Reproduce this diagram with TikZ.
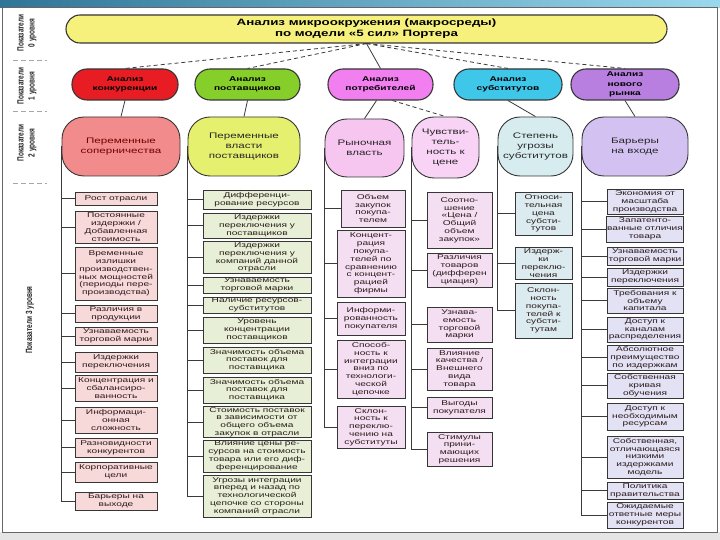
\documentclass[tikz,border=0pt]{standalone}
\usepackage{fontspec}
\setmainfont{Liberation Sans}
\newfontfamily\wfont[FakeStretch=1.45]{Liberation Sans}
\newfontfamily\nfont[FakeStretch=0.72]{Liberation Sans}
\usetikzlibrary{backgrounds}
\definecolor{linec}{HTML}{3A3A3A}
\definecolor{bordc}{HTML}{363636}
\definecolor{ttlfill}{HTML}{F6F07C}
\definecolor{oneA}{HTML}{E81C23}
\definecolor{oneB}{HTML}{86CF2B}
\definecolor{oneC}{HTML}{F27FF0}
\definecolor{oneD}{HTML}{3FC7EA}
\definecolor{oneE}{HTML}{B87FE0}
\definecolor{twoA}{HTML}{F28B8B}
\definecolor{twoB}{HTML}{E4F06E}
\definecolor{twoC}{HTML}{F6C6F1}
\definecolor{twoD}{HTML}{F8D3F5}
\definecolor{twoE}{HTML}{D6ECEF}
\definecolor{twoF}{HTML}{D3C2F1}
\definecolor{thrA}{HTML}{F7D9DA}
\definecolor{thrB}{HTML}{E7F0D6}
\definecolor{thrC}{HTML}{F4DFF2}
\definecolor{thrE}{HTML}{DCEBEF}
\definecolor{thrF}{HTML}{E3E1F4}
\definecolor{txtc}{HTML}{2B1B1B}
\definecolor{bandL}{HTML}{2F7597}
\definecolor{bandR}{HTML}{9AD8EE}
\newcommand\lbox[7]{\node[#2, minimum width={#4-#3}, minimum height={#6-#5}] (#1) at ({(#3+#4)/2},{(#5+#6)/2}) {#7};}
\tikzset{
  conn/.style={draw=linec, line width=0.8pt},
  dconn/.style={conn, dash pattern=on 4pt off 3pt},
  sepline/.style={draw=gray!70, line width=0.8pt, dash pattern=on 5pt off 3pt},
  ttl/.style={draw=bordc, line width=1.1pt, fill=ttlfill, rounded corners=14pt, align=center, inner sep=1pt,
    font={\wfont\bfseries\fontsize{9.2}{11}\selectfont}},
  lvone/.style={draw=bordc, line width=1.1pt, rounded corners=15pt, align=center, inner sep=1pt,
    font={\wfont\bfseries\fontsize{7}{9.2}\selectfont}},
  lvtwo/.style={draw=bordc, line width=0.9pt, rounded corners=22pt, align=center, inner sep=1pt, text=black!85,
    font={\wfont\fontsize{8}{10}\selectfont}},
  lvthr/.style={draw=bordc, line width=0.9pt, align=center, inner sep=1pt, text=txtc,
    font={\wfont\fontsize{7}{7.8}\selectfont}},
  cA/.style={lvthr, fill=thrA},
  cB/.style={lvthr, fill=thrB},
  cC/.style={lvthr, fill=thrC},
  cE/.style={lvthr, fill=thrE},
  cF/.style={lvthr, fill=thrF},
  lab/.style={align=center, text=black!85, font={\nfont\bfseries\fontsize{9}{11}\selectfont}, rotate=90, inner sep=0pt}
}
\begin{document}
\begin{tikzpicture}[x=1pt,y=-1pt]
\useasboundingbox (0,0) rectangle (720,540);
% title
\node[ttl, minimum width=601, minimum height=28] (title) at (366.5,29) {Анализ микроокружения (макросреды)\\по модели «5 сил» Портера};
% level 1
\node[lvone, fill=oneA, minimum width=106, minimum height=31] (l1a) at (125,84.5) {Анализ\\конкуренции};
\node[lvone, fill=oneB, minimum width=105, minimum height=31] (l1b) at (247.5,84.5) {Анализ\\поставщиков};
\node[lvone, fill=oneC, minimum width=105, minimum height=31] (l1c) at (380.5,84.5) {Анализ\\потребителей};
\node[lvone, fill=oneD, minimum width=108, minimum height=31] (l1d) at (508,84.5) {Анализ\\субститутов};
\node[lvone, fill=oneE, minimum width=108, minimum height=31] (l1e) at (625,84.5) {Анализ\\нового\\рынка};
% level 2
\node[lvtwo, fill=twoA, text=red!45!black, minimum width=118, minimum height=59] (l2a) at (121,146.5) {Переменные\\соперничества};
\node[lvtwo, fill=twoB, minimum width=112, minimum height=59] (l2b) at (244,146.5) {Переменные\\власти\\поставщиков};
\node[lvtwo, fill=twoC, minimum width=79, minimum height=58] (l2c) at (364.5,148) {Рыночная\\власть};
\node[lvtwo, fill=twoD, minimum width=67, minimum height=61] (l2d) at (445.5,147.5) {Чувстви-\\тель-\\ность к\\цене};
\node[lvtwo, fill=twoE, minimum width=75, minimum height=59] (l2e) at (535.5,146.5) {Степень\\угрозы\\субститутов};
\node[lvtwo, fill=twoF, minimum width=106, minimum height=59] (l2f) at (635,146.5) {Барьеры\\на входе};
% column 1
\lbox{a1}{cA}{75}{157}{192}{205}{Рост отрасли}
\lbox{a2}{cA}{75}{157}{211}{243}{Постоянные\\издержки /\\Добавленная\\стоимость}
\lbox{a3}{cA}{75}{157}{247}{300}{Временные\\излишки\\производствен-\\ных мощностей\\(периоды пере-\\производства)}
\lbox{a4}{cA}{75}{157}{305}{322}{Различия в\\продукции}
\lbox{a5}{cA}{75}{157}{327}{345}{Узнаваемость\\торговой марки}
\lbox{a6}{cA}{75}{157}{352}{372}{Издержки\\переключения}
\lbox{a7}{cA}{75}{157}{375}{401}{Концентрация и\\сбалансиро-\\ванность}
\lbox{a8}{cA}{75}{157}{407}{433}{Информаци-\\онная\\сложность}
\lbox{a9}{cA}{75}{157}{438}{457}{Разновидности\\конкурентов}
\lbox{a10}{cA}{75}{157}{462}{482}{Корпоративные\\цели}
\lbox{a11}{cA}{75}{157}{492}{510}{Барьеры на\\выходе}
% column 2
\lbox{b1}{cB}{203}{311}{190}{209}{Дифференци-\\рование ресурсов}
\lbox{b2}{cB}{203}{311}{213}{238}{Издержки\\переключения у\\поставщиков}
\lbox{b3}{cB}{203}{311}{242}{273}{Издержки\\переключения у\\компаний данной\\отрасли}
\lbox{b4}{cB}{203}{311}{277}{293}{Узнаваемость\\торговой марки}
\lbox{b5}{cB}{203}{311}{297}{313}{Наличие ресурсов-\\субститутов}
\lbox{b6}{cB}{203}{311}{317}{343}{Уровень\\концентрации\\поставщиков}
\lbox{b7}{cB}{203}{311}{347}{373}{Значимость объема\\поставок для\\поставщика}
\lbox{b8}{cB}{203}{311}{377}{403}{Значимость объема\\поставок для\\поставщика}
\lbox{b9}{cB}{203}{311}{407}{437}{Стоимость поставок\\в зависимости от\\общего объема\\закупок в отрасли}
\lbox{b10}{cB}{203}{311}{440}{472}{Влияние цены ре-\\сурсов на стоимость\\товара или его диф-\\ференцирование}
\lbox{b11}{cB}{203}{311}{475}{517}{Угрозы интеграции\\вперед и назад по\\технологической\\цепочке со стороны\\компаний отрасли}
% column 3
\lbox{c1}{cC}{341}{405}{190}{227}{Объем\\закупок\\покупа-\\телем}
\lbox{c2}{cC}{337}{405}{230}{297}{Концент-\\рация\\покупа-\\телей по\\сравнению\\с концент-\\рацией\\фирмы}
\lbox{c3}{cC}{337}{405}{302}{335}{Информи-\\рованность\\покупателя}
\lbox{c4}{cC}{337}{405}{340}{398}{Способ-\\ность к\\интеграции\\вниз по\\технологи-\\ческой\\цепочке}
\lbox{c5}{cC}{337}{405}{406}{448}{Склон-\\ность к\\переклю-\\чению на\\субституты}
% column 4
\lbox{d1}{cC}{427}{492}{192}{248}{Соотно-\\шение\\«Цена /\\Общий\\объем\\закупок»}
\lbox{d2}{cC}{427}{492}{253}{287}{Различия\\товаров\\(дифферен\\циация)}
\lbox{d3}{cC}{427}{492}{307}{342}{Узнава-\\емость\\торговой\\марки}
\lbox{d4}{cC}{427}{492}{348}{390}{Влияние\\качества /\\Внешнего\\вида\\товара}
\lbox{d5}{cC}{427}{492}{397}{418}{Выгоды\\покупателя}
\lbox{d6}{cC}{427}{492}{432}{466}{Стимулы\\прини-\\мающих\\решения}
% column 5
\lbox{e1}{cE}{515}{572}{192}{235}{Относи-\\тельная\\цена\\субсти-\\тутов}
\lbox{e2}{cE}{515}{572}{247}{279}{Издерж-\\ки\\переклю-\\чения}
\lbox{e3}{cE}{515}{572}{283}{338}{Склон-\\ность\\покупа-\\телей к\\субсти-\\тутам}
% column 6
\lbox{f1}{cF}{607}{683}{189}{214}{Экономия от\\масштаба\\производства}
\lbox{f2}{cF}{607}{683}{216}{242}{Запатенто-\\ванные отличия\\товара}
\lbox{f3}{cF}{607}{683}{247}{265}{Узнаваемость\\торговой марки}
\lbox{f4}{cF}{607}{683}{268}{286}{Издержки\\переключения}
\lbox{f5}{cF}{607}{683}{288}{313}{Требования к\\объему\\капитала}
\lbox{f6}{cF}{607}{683}{317}{342}{Доступ к\\каналам\\распределения}
\lbox{f7}{cF}{607}{683}{345}{370}{Абсолютное\\преимущество\\по издержкам}
\lbox{f8}{cF}{607}{683}{373}{398}{Собственная\\кривая\\обучения}
\lbox{f9}{cF}{607}{683}{403}{430}{Доступ к\\необходимым\\ресурсам}
\lbox{f10}{cF}{607}{683}{436}{478}{Собственная,\\отличающаяся\\низкими\\издержками\\модель}
\lbox{f11}{cF}{607}{683}{482}{499}{Политика\\правительства}
\lbox{f12}{cF}{607}{683}{502}{528}{Ожидаемые\\ответные меры\\конкурентов}
% left labels
\node[lab] (lab0) at (27,33) {Показатели\\0 уровня};
\node[lab] (lab1) at (27,86) {Показатели\\1 уровня};
\node[lab] (lab2) at (27,143) {Показатели\\2 уровня};
\node[lab] (lab3) at (30,320) {Показатели 3 уровня};
\begin{pgfonlayer}{background}
\fill[white] (0,0) rectangle (720,540);
\shade[left color=bandL, right color=bandR] (0,0) rectangle (720,8);
\fill[gray!20] (0,532) rectangle (720,540);
\draw[gray!80!black, line width=1pt] (2,8) rectangle (717,532);
\draw[sepline] (13,60) -- (47,60);
\draw[sepline] (13,111) -- (47,111);
\draw[sepline] (13,183) -- (47,183);
% title to level 1
\draw[dconn] (title.south) -- (l1a.north);
\draw[dconn] (title.south) -- (l1b.north);
\draw[conn] (title.south) -- (l1c.north);
\draw[dconn] (title.south) -- (l1d.north);
\draw[dconn] (title.south) -- (l1e.north);
% level 1 to level 2
\draw[conn] (l1a.south) -- (l2a.north);
\draw[conn] (l1b.south) -- (l2b.north);
\draw[conn] ([xshift=-4pt]l1c.south) -- (l2c.north);
\draw[dconn] ([xshift=12pt]l1c.south) -- (l2d.north);
\draw[conn] (l1d.south) -- (l2e.north);
\draw[conn] (l1e.south) -- (l2f.north);
% level 2 to level 3
\foreach \n in {a1,a2,a3,a4,a5,a6,a7,a8,a9,a10,a11} \draw[conn] (l2a.west) |- (\n.west);
\foreach \n in {b1,b2,b3,b4,b5,b6,b7,b8,b9,b10,b11} \draw[conn] (l2b.west) |- (\n.west);
\foreach \n in {c1,c2,c3,c4,c5} \draw[conn] (l2c.west) |- (\n.west);
\foreach \n in {d1,d2,d3,d4,d5,d6} \draw[conn] (l2d.west) |- (\n.west);
\foreach \n in {e1,e2,e3} \draw[conn] (l2e.west) |- (\n.west);
\foreach \n in {f1,f2,f3,f4,f5,f6,f7,f8,f9,f10,f11,f12} \draw[conn] (l2f.west) |- (\n.west);
\end{pgfonlayer}
\end{tikzpicture}
\end{document}
